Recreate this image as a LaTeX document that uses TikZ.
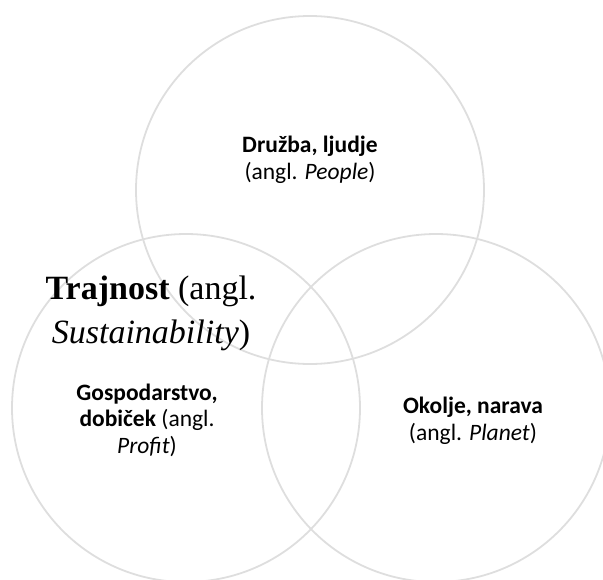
\documentclass[tikz,border=0pt]{standalone}
\usepackage{fontspec}
\setmainfont{Liberation Serif}
\newfontfamily\carl{Carlito}
\begin{document}
\begin{tikzpicture}[x=1pt,y=-1pt,
  ring/.style={draw=black!13,line width=1.8pt},
  lbl/.style={font=\carl\fontsize{23.5}{26.5}\selectfont,align=center,text=black,inner sep=0pt},
  title/.style={font=\fontsize{34}{44}\selectfont,align=center,inner sep=0pt}]
\useasboundingbox (0,0) rectangle (603,579);
\node[circle,minimum size=348pt,ring] (people) at (310,190) {};
\node[circle,minimum size=348pt,ring] (profit) at (186,408) {};
\node[circle,minimum size=348pt,ring] (planet) at (436,408) {};
\node[lbl] (tp) at (310,160) {\textbf{Družba, ljudje}\\(angl. \textit{People})};
\node[lbl] (tg) at (147,420) {\textbf{Gospodarstvo,}\\\textbf{dobiček} (angl.\\\textit{Profit})};
\node[lbl] (to) at (473,421) {\textbf{Okolje, narava}\\(angl. \textit{Planet})};
\node[title] (tt) at (151,313) {\textbf{Trajnost} (angl.\\\textit{Sustainability})};
\end{tikzpicture}
\end{document}
